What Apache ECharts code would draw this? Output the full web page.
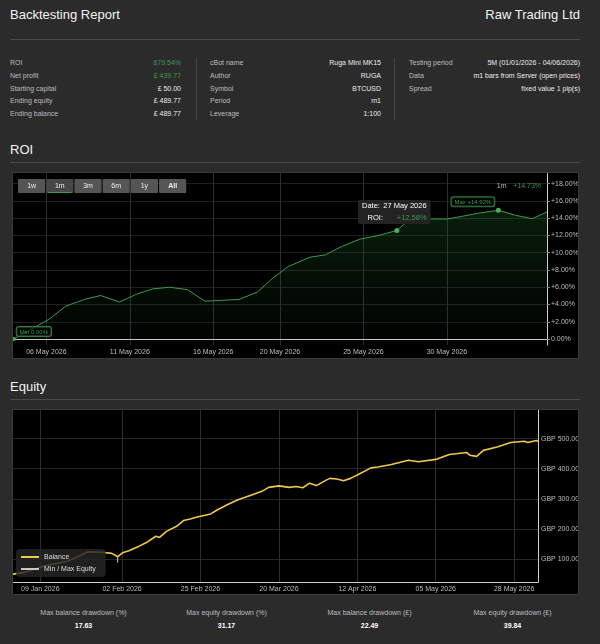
<!DOCTYPE html>
<html>
<head>
<meta charset="utf-8">
<script src="https://cdn.jsdelivr.net/npm/echarts@6/dist/echarts.min.js"></script>
<style>
  body { margin:0; width:600px; height:644px; overflow:hidden; background:#2b2b2b;
         font-family:'Liberation Sans', Arial, sans-serif; color:#eee; position:relative; }
  .abs { position:absolute; white-space:nowrap; }
  .h1 { font-size:13px; line-height:14px; color:#f2f2f2; }
  .rule { position:absolute; height:1px; background:#4a4a4a; }
  .vrule { position:absolute; width:1px; background:#444; }
  .lbl { font-size:7px; line-height:10px; color:#bdbdbd; }
  .val { font-size:7px; line-height:10px; color:#ececec; text-align:right; }
  .green { color:#3d9a4c; }
  .chart { position:absolute; background:#000; box-sizing:border-box; border:1px solid #3a3a3a; }
  .stat { font-size:7px; line-height:10px; text-align:center; }
</style>
</head>
<body>
<div class="abs h1" style="left:10px;top:8px">Backtesting Report</div>
<div class="abs h1" style="right:20px;top:8px">Raw Trading Ltd</div>
<div class="rule" style="left:10px;top:39px;width:570px"></div>
<div id="info"></div>
<div class="vrule" style="left:196px;top:58px;height:62px"></div>
<div class="vrule" style="left:394px;top:58px;height:62px"></div>

<div class="abs h1" style="left:10px;top:143px">ROI</div>
<div class="rule" style="left:10px;top:162px;width:570px"></div>
<div id="roiChart" class="chart" style="left:12px;top:172px;width:567px;height:187px"></div>

<div class="abs h1" style="left:10px;top:380px">Equity</div>
<div class="rule" style="left:10px;top:399px;width:570px"></div>
<div id="equityChart" class="chart" style="left:12px;top:409px;width:567px;height:186px"></div>

<div id="stats"></div>

<script>
// ---- report figures ----
var infoLabels1 = ['ROI', 'Net profit', 'Starting capital', 'Ending equity', 'Ending balance'];
var infoValues1 = ['879.54%', '£ 439.77', '£ 50.00', '£ 489.77', '£ 489.77'];
var infoLabels2 = ['cBot name', 'Author', 'Symbol', 'Period', 'Leverage'];
var infoValues2 = ['Ruga Mini MK15', 'RUGA', 'BTCUSD', 'm1', '1:100'];
var infoLabels3 = ['Testing period', 'Data', 'Spread'];
var infoValues3 = ['5M (01/01/2026 - 04/06/2026)', 'm1 bars from Server (open prices)', 'fixed value 1 pip(s)'];

var statLabels = ['Max balance drawdown (%)', 'Max equity drawdown (%)', 'Max balance drawdown (£)', 'Max equity drawdown (£)'];
var statValues = ['17.63', '31.17', '22.49', '39.84'];

// ---- ROI (1m range) ----
var roiDates = ['2026-05-04 01:00', '2026-05-06 04:00', '2026-05-07 04:00', '2026-05-08 07:00', '2026-05-09 06:00',
  '2026-05-10 09:00', '2026-05-11 11:00', '2026-05-12 09:00', '2026-05-13 09:00', '2026-05-14 11:00',
  '2026-05-15 12:00', '2026-05-17 13:00', '2026-05-18 15:00', '2026-05-19 14:00', '2026-05-20 12:00',
  '2026-05-21 19:00', '2026-05-22 17:00', '2026-05-23 16:00', '2026-05-24 19:00', '2026-05-25 18:00',
  '2026-05-27 00:00', '2026-05-27 19:00', '2026-05-30 01:00', '2026-05-31 23:00', '2026-06-02 02:00',
  '2026-06-03 03:00', '2026-06-04 03:00', '2026-06-05 00:00'];
var roiValues = [0.00, 2.30, 3.82, 4.59, 5.05, 4.28, 5.24, 5.81, 6.00, 5.73,
  4.39, 4.59, 5.42, 7.08, 8.41, 9.48, 9.75, 10.70, 11.58, 11.93,
  12.58, 13.91, 13.91, 14.60, 14.92, 14.33, 13.95, 14.73];
var roiTicks = [0, 2, 4, 6, 8, 10, 12, 14, 16, 18];
var roiDateTicks = ['2026-05-06', '2026-05-11', '2026-05-16', '2026-05-20', '2026-05-25', '2026-05-30'];
var roiRange = ['2026-05-04', '2026-06-05'];
var tipIndex = 20;   // hovered point: 27 May 2026
var rangeButtons = ['1w', '1m', '3m', '6m', '1y', 'All'];
var rangeSelected = '1m';

// ---- Equity ----
var balanceDates = ['2026-01-01', '2026-01-04', '2026-01-10', '2026-01-17', '2026-01-23', '2026-01-27', '2026-01-30',
  '2026-01-31 17:00', '2026-02-02 03:00', '2026-02-04', '2026-02-07', '2026-02-09', '2026-02-11 22:00', '2026-02-13',
  '2026-02-15', '2026-02-18', '2026-02-20', '2026-02-22', '2026-02-24', '2026-02-28', '2026-03-02', '2026-03-05',
  '2026-03-08', '2026-03-12', '2026-03-15', '2026-03-17', '2026-03-20', '2026-03-23', '2026-03-25', '2026-03-27',
  '2026-03-29', '2026-03-31', '2026-04-03', '2026-04-04', '2026-04-06', '2026-04-08', '2026-04-10', '2026-04-12',
  '2026-04-16', '2026-04-18', '2026-04-22', '2026-04-27', '2026-04-30', '2026-05-05', '2026-05-09', '2026-05-11',
  '2026-05-14', '2026-05-15', '2026-05-17', '2026-05-19', '2026-05-23', '2026-05-27', '2026-05-31', '2026-06-01',
  '2026-06-03 12:00', '2026-06-04'];
var balanceValues = [50, 55, 77, 93, 124, 123, 119,
  108, 121, 128, 143, 154, 176, 172,
  192, 209, 228, 233, 240, 250, 264, 281,
  297, 313, 325, 338, 343, 338, 341, 337,
  352, 344, 363, 368, 366, 360, 368, 379,
  403, 406, 414, 428, 423, 431, 447, 450,
  454, 445, 441, 461, 472, 487, 491, 487,
  494, 489.77];
var equityMinDates = ['2026-01-31 17:00', '2026-01-31 17:00'];
var equityMinValues = [108, 88];
var equityTicks = [100, 200, 300, 400, 500];
var equityDateTicks = ['2026-01-09', '2026-02-02', '2026-02-25', '2026-03-20', '2026-04-12', '2026-05-05', '2026-05-28'];
var equityRange = ['2026-01-01', '2026-06-04'];

// ---- helpers ----
var MONTHS = ['Jan','Feb','Mar','Apr','May','Jun','Jul','Aug','Sep','Oct','Nov','Dec'];
function ts(s) {
  var p = s.split(' '), d = p[0].split('-').map(Number), t = (p[1] || '00:00').split(':').map(Number);
  return new Date(d[0], d[1] - 1, d[2], t[0], t[1]).getTime();
}
function fmtDate(v) {
  var d = new Date(v);
  return (d.getDate() < 10 ? '0' : '') + d.getDate() + ' ' + MONTHS[d.getMonth()] + ' ' + d.getFullYear();
}
function pct(v) { return (v > 0 ? '+' : '') + v.toFixed(2) + '%'; }
var FONT = "'Liberation Sans', Arial, sans-serif";

// ---- info table + stats (html) ----
var html = '';
[[infoLabels1, infoValues1, 10, 181], [infoLabels2, infoValues2, 210, 381], [infoLabels3, infoValues3, 409, 580]].forEach(function (c, ci) {
  c[0].forEach(function (l, i) {
    var top = 58 + i * 12.75;
    var cls = (ci === 0 && i < 2) ? ' green' : '';
    html += '<div class="abs lbl" style="left:' + c[2] + 'px;top:' + top + 'px">' + l + '</div>';
    html += '<div class="abs val' + cls + '" style="right:' + (600 - c[3]) + 'px;top:' + top + 'px">' + c[1][i] + '</div>';
  });
});
document.getElementById('info').innerHTML = html;

html = '';
statLabels.forEach(function (l, i) {
  var left = 12 + i * 143;
  html += '<div class="abs stat" style="left:' + left + 'px;width:143px;top:608px;color:#bdbdbd">' + l + '</div>';
  html += '<div class="abs stat" style="left:' + left + 'px;width:143px;top:621px;color:#fff;font-weight:bold">' + statValues[i] + '</div>';
});
document.getElementById('stats').innerHTML = html;

// ---- ROI chart ----
var roiChart = echarts.init(document.getElementById('roiChart'));
var roiData = roiDates.map(function (d, i) { return [ts(d), roiValues[i]]; });
var roiDateTickTs = roiDateTicks.map(ts);

var buttons = [];
rangeButtons.forEach(function (b, i) {
  var x = 5 + i * 28.2;
  buttons.push({ type: 'rect', shape: { x: x, y: 6, width: 27.2, height: 14, r: 1 },
    style: { fill: b === rangeSelected ? '#474747' : '#555' }, z: 10 });
  buttons.push({ type: 'text', x: x + 13.6, y: 13,
    style: { text: b, fill: '#eee', font: (b === 'All' ? 'bold ' : '') + '7px ' + FONT, align: 'center', verticalAlign: 'middle' }, z: 11 });
  if (b === rangeSelected) {
    buttons.push({ type: 'rect', shape: { x: x + 2, y: 19, width: 23.2, height: 1 }, style: { fill: '#3d9a4c' }, z: 11 });
  }
});
var lastRoi = roiValues[roiValues.length - 1];
buttons.push({ type: 'text', x: 528, y: 13, z: 11,
  style: { text: '{a|' + rangeSelected + '}  {b|' + pct(lastRoi) + '}', align: 'right', verticalAlign: 'middle',
    rich: { a: { fill: '#bdbdbd', fontSize: 7, fontFamily: FONT }, b: { fill: '#3d9a4c', fontSize: 7, fontFamily: FONT } } } });

var boxLabel = {
  show: true, color: '#3d9a4c', fontSize: 6, fontFamily: FONT,
  backgroundColor: 'rgba(0,0,0,0.55)', borderColor: '#2f7a3c', borderWidth: 1, borderRadius: 2, padding: [2, 3, 1, 3]
};

roiChart.setOption({
  animation: false,
  textStyle: { fontFamily: FONT },
  grid: { left: 0, right: 31, top: 0, bottom: 13, outerBoundsMode: 'none' },
  xAxis: {
    type: 'value', min: ts(roiRange[0]), max: ts(roiRange[1]),
    axisLine: { lineStyle: { color: '#d0d0d0', width: 1 } },
    axisTick: { show: false, customValues: roiDateTickTs },
    axisLabel: { customValues: roiDateTickTs, formatter: fmtDate, color: '#bdbdbd', fontSize: 7, margin: 4, hideOverlap: false },
    splitLine: { show: true, lineStyle: { color: '#2e2e2e', width: 1 } }
  },
  yAxis: {
    type: 'value', position: 'right', min: -0.69, max: 19.24,
    axisLine: { show: true, lineStyle: { color: '#cfcfcf' } },
    axisTick: { show: true, length: 3, customValues: roiTicks, lineStyle: { color: '#888' } },
    axisLabel: { customValues: roiTicks, formatter: pct, color: '#bdbdbd', fontSize: 7, margin: 4 },
    splitLine: { show: true, lineStyle: { color: '#1f1f1f' } }
  },
  graphic: buttons,
  series: [{
    type: 'line', data: roiData, showSymbol: false, symbol: 'circle',
    lineStyle: { color: '#3d9a4c', width: 1 },
    itemStyle: { color: '#4caf50' },
    areaStyle: {
      origin: 'start',
      color: new echarts.graphic.LinearGradient(0, 0, 0, 1, [
        { offset: 0, color: 'rgba(30,110,45,0.40)' },
        { offset: 1, color: 'rgba(20,70,30,0.06)' }
      ])
    },
    markPoint: {
      symbol: 'circle', symbolSize: 5, itemStyle: { color: '#4caf50' },
      data: [
        { type: 'min', symbolSize: 4,
          label: Object.assign({}, boxLabel, { position: [5, -1], align: 'left', verticalAlign: 'bottom',
            formatter: function (p) { return 'Min ' + p.value.toFixed(2) + '%'; } }) },
        { type: 'max',
          label: Object.assign({}, boxLabel, { position: [-1.5, -1.5], align: 'right', verticalAlign: 'bottom',
            formatter: function (p) { return 'Max ' + pct(p.value); } }) },
        { coord: roiData[tipIndex], value: roiValues[tipIndex],
          label: {
            show: true, position: [0, -4], align: 'center', verticalAlign: 'bottom',
            backgroundColor: '#232323', borderRadius: 2, padding: [0, 4, 0, 4],
            formatter: '{k|Date:} {v|' + fmtDate(roiData[tipIndex][0]) + '}\n{r|ROI:}{g|' + pct(roiValues[tipIndex]) + '}',
            rich: {
              k: { color: '#fff', fontSize: 7.5, lineHeight: 12, fontFamily: FONT },
              v: { color: '#fff', fontSize: 7.5, lineHeight: 12, fontFamily: FONT },
              r: { color: '#fff', fontSize: 7.5, lineHeight: 12, width: 22, fontFamily: FONT },
              g: { color: '#3d9a4c', fontSize: 7.5, lineHeight: 12, width: 38, align: 'right', fontFamily: FONT }
            }
          } }
      ]
    }
  }]
});

// ---- Equity chart ----
var equityChart = echarts.init(document.getElementById('equityChart'));
var equityDateTickTs = equityDateTicks.map(ts);

equityChart.setOption({
  animation: false,
  textStyle: { fontFamily: FONT },
  grid: { left: 0, right: 40, top: 0, bottom: 12, outerBoundsMode: 'none' },
  legend: {
    data: ['Balance', 'Min / Max Equity'], orient: 'vertical', left: 3, top: 139,
    itemWidth: 18, itemHeight: 10, itemGap: 4, padding: [4, 10, 4, 4],
    itemStyle: { opacity: 0 },
    backgroundColor: 'rgba(38,38,38,0.82)', borderRadius: 4,
    textStyle: { color: '#ddd', fontSize: 7 }
  },
  xAxis: {
    type: 'value', min: ts(equityRange[0]), max: ts(equityRange[1]),
    axisLine: { lineStyle: { color: '#d0d0d0' } },
    axisTick: { show: false, customValues: equityDateTickTs },
    axisLabel: { customValues: equityDateTickTs, formatter: fmtDate, color: '#bdbdbd', fontSize: 7, margin: 4, hideOverlap: false },
    splitLine: { show: true, lineStyle: { color: '#2e2e2e' } }
  },
  yAxis: {
    type: 'value', position: 'right', min: 24, max: 595,
    axisLine: { show: true, lineStyle: { color: '#cfcfcf' } },
    axisTick: { show: false, customValues: equityTicks },
    axisLabel: { customValues: equityTicks, formatter: function (v) { return 'GBP ' + v.toFixed(2); },
      color: '#bdbdbd', fontSize: 7, margin: 3 },
    splitLine: { show: true, lineStyle: { color: '#262626' } }
  },
  series: [
    { name: 'Min / Max Equity', type: 'line', symbol: 'none', z: 2,
      data: equityMinDates.map(function (d, i) { return [ts(d), equityMinValues[i]]; }),
      lineStyle: { color: '#c8c8c8', width: 1 }, itemStyle: { color: '#c8c8c8' } },
    { name: 'Balance', type: 'line', symbol: 'none', z: 3,
      data: balanceDates.map(function (d, i) { return [ts(d), balanceValues[i]]; }),
      lineStyle: { color: '#f0c84a', width: 1.6 }, itemStyle: { color: '#f0c84a' } }
  ]
});
</script>
</body>
</html>
